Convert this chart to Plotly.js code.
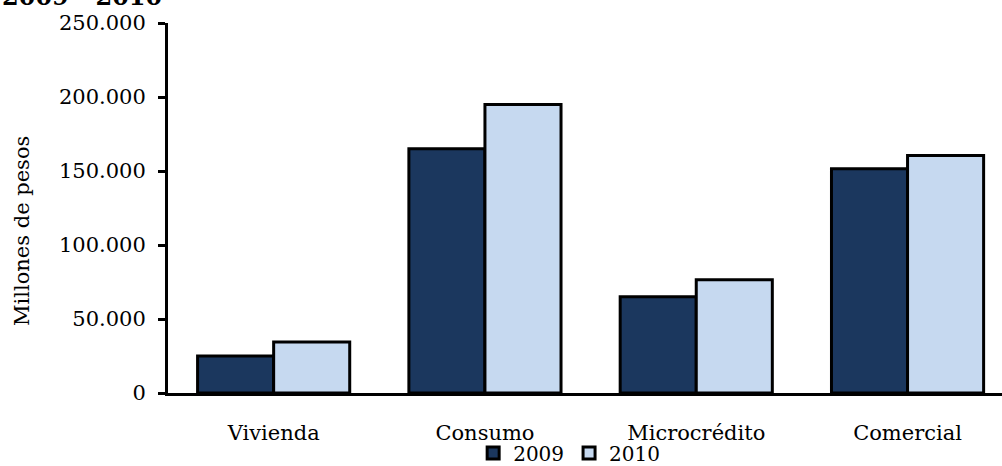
<!DOCTYPE html>
<html>
<head>
<meta charset="utf-8">
<script src="https://cdn.plot.ly/plotly-3.0.1.min.js"></script>
<style>html,body{margin:0;padding:0;background:#fff;}#chart{width:1002px;height:466px;}</style>
</head>
<body>
<div id="chart"></div>
<script>
const categories = ["Vivienda", "Consumo", "Microcrédito", "Comercial"];
const values2009 = [25000, 165000, 65000, 151500];
const values2010 = [34500, 195000, 76500, 160500];
const seriesNames = ["2009", "2010"];
const yTickVals = [0, 50000, 100000, 150000, 200000, 250000];
const yAxisTitle = "Millones de pesos";
const chartTitle = "2009 - 2010";

const FONT = "DejaVu Serif";
const traces = [
  {type: "bar", name: seriesNames[0], x: categories, y: values2009,
   marker: {color: "#1B375E", line: {color: "#000", width: 3}}},
  {type: "bar", name: seriesNames[1], x: categories, y: values2010,
   marker: {color: "#C6D9F0", line: {color: "#000", width: 3}}}
];
const layout = {
  width: 1002, height: 466,
  margin: {l: 168, r: 0, t: 23, b: 73, autoexpand: false},
  paper_bgcolor: "#fff", plot_bgcolor: "#fff",
  separators: ",.",
  font: {family: FONT, size: 20, color: "#000"},
  barmode: "group", bargap: 0.28, bargroupgap: 0,
  xaxis: {
    range: [-0.5, 3.447], showline: true, linecolor: "#000", linewidth: 3,
    ticks: "", ticklabelstandoff: 19, tickfont: {family: FONT, size: 21},
    showgrid: false, zeroline: false, fixedrange: true
  },
  yaxis: {
    range: [0, 250000], tickvals: yTickVals, tickformat: ",d",
    showline: true, linecolor: "#000", linewidth: 3,
    ticks: "outside", ticklen: 7, tickwidth: 3, tickcolor: "#000",
    ticklabelstandoff: 8,
    tickfont: {family: FONT, size: 21}, showgrid: false, zeroline: false
  },
  legend: {orientation: "h", x: 0.481, xanchor: "center", y: -0.162, yanchor: "middle",
    bgcolor: "rgba(0,0,0,0)", font: {family: FONT, size: 20}, itemwidth: 30,
    tracegroupgap: 0, traceorder: "normal"},
  showlegend: true,
  annotations: [{
    text: "<b>" + chartTitle + "</b>", xref: "paper", yref: "paper",
    x: -168/834, xanchor: "left", y: 1 + 10/370, yanchor: "bottom",
    showarrow: false, font: {family: FONT, size: 24, color: "#000"}
  }, {
    text: yAxisTitle, xref: "paper", yref: "paper", textangle: -90,
    x: (22 - 168)/834, xanchor: "center", y: (393 - 231)/370, yanchor: "middle",
    showarrow: false, font: {family: FONT, size: 21, color: "#000"}
  }]
};
Plotly.newPlot("chart", traces, layout, {displayModeBar: false, staticPlot: true});
</script>
</body>
</html>
